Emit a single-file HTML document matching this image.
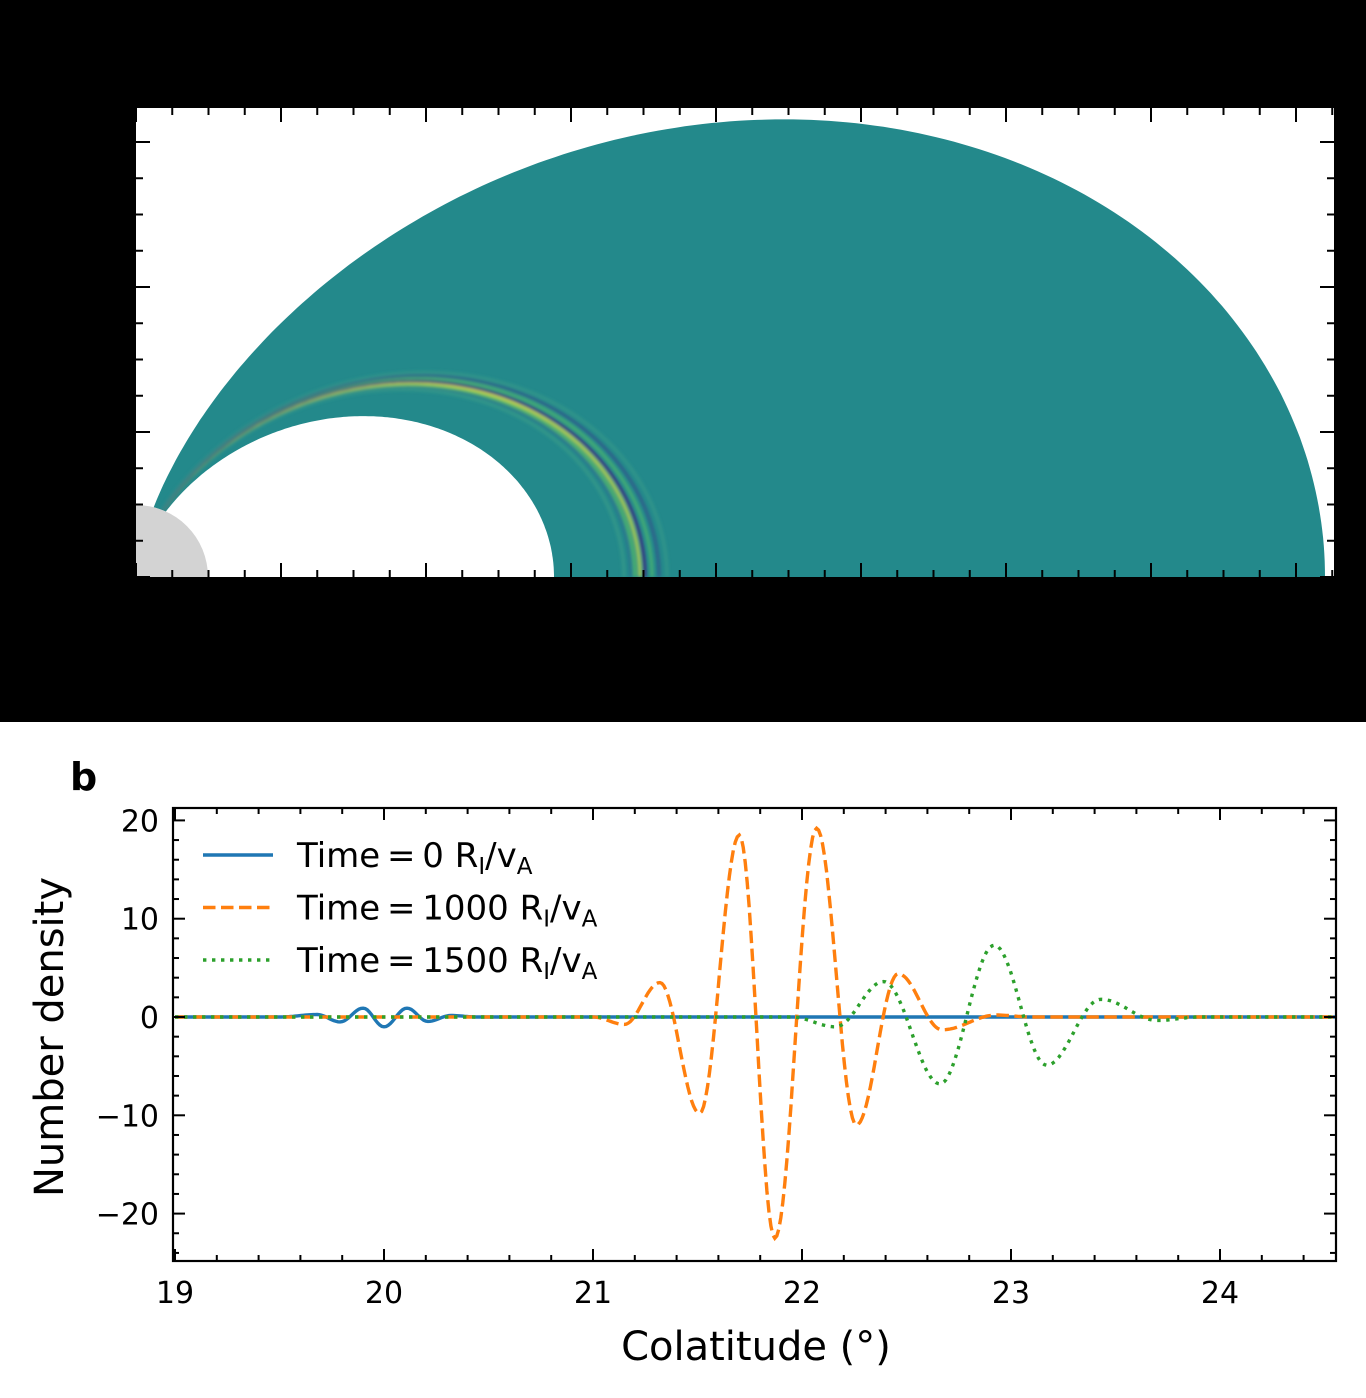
<!DOCTYPE html>
<html><head><meta charset="utf-8">
<style>
html,body{margin:0;padding:0;background:#fff;}
svg{display:block;font-family:"DejaVu Sans","Liberation Sans",sans-serif;}
</style></head>
<body>
<svg id="root" width="1366" height="1398" viewBox="0 0 1366 1398" xmlns="http://www.w3.org/2000/svg">
<defs>
<filter id="blur1" x="-10%" y="-10%" width="120%" height="120%"><feGaussianBlur stdDeviation="1.6"/></filter>
<clipPath id="fieldclip"><path id="fieldpath" d=""/></clipPath>
<clipPath id="plotclip"><rect x="173" y="808" width="1163" height="453"/></clipPath>
</defs>
<rect x="0" y="0" width="1366" height="722" fill="#000"/>
<rect x="136" y="108" width="1198" height="469" fill="#fff"/>
<g id="topPanel"></g>
<g id="topticks"></g>

<text x="70" y="790" font-size="38" font-weight="bold">b</text>
<g id="chart"></g>
</svg>
<script>
// ---- data (bottom chart) ----
const xTicks = [19, 20, 21, 22, 23, 24];
const yTicks = [20, 10, 0, -10, -20];
const seriesNames = ["Time = 0", "Time = 1000", "Time = 1500"];
const blueX = [19, 19.5, 19.68, 19.79, 19.9, 20.0, 20.11, 20.21, 20.32, 20.45, 24.56];
const blueY = [0, 0, 0.25, -0.5, 0.9, -1.0, 0.9, -0.45, 0.15, 0, 0];
const orangeX = [19, 21.0, 21.15, 21.32, 21.51, 21.70, 21.87, 22.07, 22.26, 22.46, 22.67, 22.93, 23.1, 24.56];
const orangeY = [0, 0, -0.75, 3.5, -9.8, 18.5, -22.5, 19.2, -11, 4.4, -1.3, 0.2, 0, 0];
const greenX = [19, 21.95, 22.16, 22.39, 22.66, 22.92, 23.17, 23.43, 23.7, 23.9, 24.56];
const greenY = [0, 0, -1.0, 3.6, -6.8, 7.3, -4.9, 1.8, -0.35, 0, 0];

const NS = "http://www.w3.org/2000/svg";
function mk(tag, attrs, parent){const e=document.createElementNS(NS,tag);for(const k in attrs)e.setAttribute(k,attrs[k]);parent.appendChild(e);return e;}

// ---- top panel ----
const topG = document.getElementById('topPanel');
const ox = 136, oy = 577;
function dipole(L, n){let p=[];const t0=Math.asin(Math.sqrt(Math.min(1,72/L)));for(let i=0;i<=n;i++){const th=t0+(Math.PI/2-t0)*i/n;const s=Math.sin(th);const r=L*s*s;p.push([ox+r*s, oy-r*Math.cos(th)]);}return p;}
const outer = dipole(1189, 200), inner = dipole(418, 200);
let d = "M"+outer.map(p=>p[0].toFixed(1)+","+p[1].toFixed(1)).join(" L");
d += " L"+inner.slice().reverse().map(p=>p[0].toFixed(1)+","+p[1].toFixed(1)).join(" L")+" Z";
document.getElementById('fieldpath').setAttribute('d', d);
const region = mk('path',{d:d,fill:'#23898b'},topG);


const wg = mk('g',{'clip-path':'url(#fieldclip)',filter:'url(#blur1)'},topG);
const bands=[[488,'#3fa487',3,0.6],[495,'#2f6c8e',3,0.7],[499,'#5dc35f',3,0.8],[504,'#d6e040',2.5,1],[509,'#3b2f80',3,1],[516,'#52bb6a',3,0.8],[523,'#34498a',3,0.7],[531,'#3fa487',3,0.5]];
bands.forEach(b=>{const pts=dipole(b[0],150);const pl=mk('polyline',{points:pts.map(p=>p.join(',')).join(' '),fill:'none',stroke:b[1],'stroke-width':b[2],opacity:b[3]},wg);

});
const planet = mk('path',{d:`M${ox},${oy-72} A72,72 0 0 1 ${ox+72},${oy} L${ox},${oy} Z`,fill:'#d3d3d3'},topG);


const tt = document.getElementById('topticks');
for(let i=0;i*36.25<=1198.5;i++){const x=136+i*36.25;const l=(i%4===0)?14:7;
 mk('line',{x1:x,x2:x,y1:577,y2:577-l,stroke:'#000','stroke-width':2},tt);mk('line',{x1:x,x2:x,y1:108,y2:108+l,stroke:'#000','stroke-width':2},tt);}
for(let i=0;i*36.25<=469;i++){const y=577-i*36.25;const l=(i%4===0)?14:7;
 mk('line',{x1:136,x2:136+l,y1:y,y2:y,stroke:'#000','stroke-width':2},tt);mk('line',{x1:1334,x2:1334-l,y1:y,y2:y,stroke:'#000','stroke-width':2},tt);}

// ---- bottom chart ----
const chart = document.getElementById('chart');
const X0=173,X1=1336,Y0=808,Y1=1261;
const xs = v => 175 + (v-19)*209;
const ys = v => 1017 - v*9.83;
function curve(xa, ya){let pts=[];for(let i=0;i<xa.length-1;i++){const n=Math.max(2,Math.round((xs(xa[i+1])-xs(xa[i]))/2));for(let k=0;k<n;k++){const t=k/n;const f=(1-Math.cos(Math.PI*t))/2;pts.push([xs(xa[i]+(xa[i+1]-xa[i])*t),ys(ya[i]+(ya[i+1]-ya[i])*f)]);}}pts.push([xs(xa[xa.length-1]),ys(ya[ya.length-1])]);return pts.map(p=>p[0].toFixed(1)+","+p[1].toFixed(1)).join(" ");}
const lines = mk('g',{'clip-path':'url(#plotclip)'},chart);
const b=mk('polyline',{points:curve(blueX,blueY),fill:'none',stroke:'#1f77b4','stroke-width':3.4},lines);


const o=mk('polyline',{points:curve(orangeX,orangeY),fill:'none',stroke:'#ff7f0e','stroke-width':3.4,'stroke-dasharray':'12.5,5.5'},lines);


const g=mk('polyline',{points:curve(greenX,greenY),fill:'none',stroke:'#2ca02c','stroke-width':3.4,'stroke-dasharray':'3.4,5.6'},lines);


const frame=mk('rect',{x:X0,y:Y0,width:X1-X0,height:Y1-Y0,fill:'none',stroke:'#000','stroke-width':2.2},chart);


for(let i=0;19+i*0.2<=24.56;i++){const v=19+i*0.2;const x=xs(v);const l=(i%5===0)?12:6;
 mk('line',{x1:x,x2:x,y1:Y1,y2:Y1-l,stroke:'#000','stroke-width':2},chart);mk('line',{x1:x,x2:x,y1:Y0,y2:Y0+l,stroke:'#000','stroke-width':2},chart);}
xTicks.forEach(v=>{const t=mk('text',{x:xs(v),y:1303,'font-size':30,'text-anchor':'middle'},chart);t.textContent=v;
 
 });
for(let v=-24;v<=21;v+=2){const y=ys(v);const l=(v%10===0)?12:6;
 mk('line',{x1:X0,x2:X0+l,y1:y,y2:y,stroke:'#000','stroke-width':2},chart);mk('line',{x1:X1,x2:X1-l,y1:y,y2:y,stroke:'#000','stroke-width':2},chart);}
yTicks.forEach(v=>{const t=mk('text',{x:159,y:ys(v)+11,'font-size':30,'text-anchor':'end'},chart);t.textContent=v<0?'\u2212'+(-v):String(v);
 
 });
const xl=mk('text',{x:756,y:1360,'font-size':40,'text-anchor':'middle'},chart);xl.textContent='Colatitude (\u00b0)';


const yl=mk('text',{x:0,y:0,'font-size':40,'text-anchor':'middle',transform:'translate(63,1037) rotate(-90)'},chart);yl.textContent='Number density';


const leg=mk('g',{},chart);


const legStyles=[['#1f77b4','none'],['#ff7f0e','12.5,5.5'],['#2ca02c','3.4,5.6']];
const legNums=['0','1000','1500'];
legStyles.forEach((s,i)=>{const y=855+i*52.5;
 const ln=mk('line',{x1:203,x2:273,y1:y,y2:y,stroke:s[0],'stroke-width':3.4,'stroke-dasharray':s[1]},leg);
 
 
 const t=mk('text',{x:297,y:y+12,'font-size':34},leg);
 
 
 const parts=[['Time\u2009=\u2009'+legNums[i]+' R',null,0],['I',23,7],['/v',null,-7],['A',23,7]];
 parts.forEach(p=>{const ts=mk('tspan',{},t);if(p[1])ts.setAttribute('font-size',p[1]);if(p[2])ts.setAttribute('dy',p[2]);ts.textContent=p[0];});
});
</script>
</body></html>
